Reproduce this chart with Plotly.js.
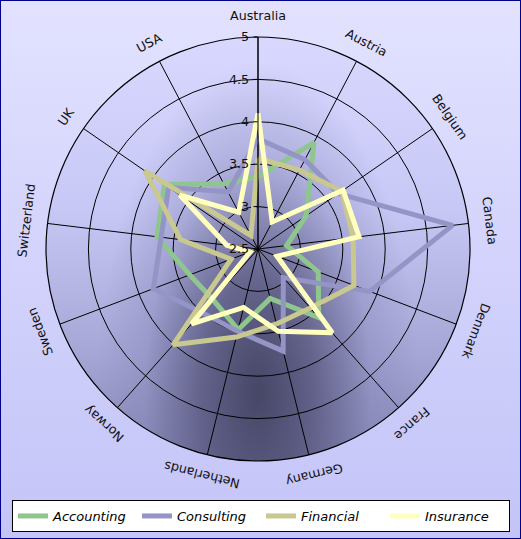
<!DOCTYPE html>
<html><head><meta charset="utf-8">
<script src="https://cdn.plot.ly/plotly-3.0.1.min.js"></script>
<style>
html,body{margin:0;padding:0;background:#d4d4fc;}
#wrap{position:relative;width:521px;height:539px;overflow:hidden;background:linear-gradient(to bottom,#e2e2ff 0%,#d2d2fc 50%,#c4c4f8 100%);}
#disc{position:absolute;left:46px;top:37px;width:424px;height:424px;border-radius:50%;
background:
 radial-gradient(ellipse 38% 78% at 50% 84%, rgba(70,70,102,1) 0%, rgba(88,88,128,0.85) 35%, rgba(130,130,180,0.4) 70%, rgba(150,150,200,0) 100%),
 linear-gradient(to bottom,#d8d8ff 0%,#c8c8f6 40%,#a6a6d6 75%,#8686b4 100%);}
#chart{position:absolute;left:0;top:0;width:521px;height:539px;}
</style></head>
<body>
<div id="wrap"><div id="disc"></div><div id="chart"></div></div>
<script>
const categories = ['Australia','Austria','Belgium','Canada','Denmark','France','Germany','Netherlands','Norway','Sweden','Switzerland','UK','USA'];
const accounting = [3.35, 3.92, 3.19, 2.84, 3.26, 3.58, 3.10, 3.48, 3.30, 3.36, 3.70, 3.84, 3.37];
const consulting = [3.80, 3.69, 3.65, 4.81, 3.91, 2.95, 3.74, 3.50, 3.50, 3.82, 3.65, 3.78, 3.26];
const financial  = [3.57, 3.55, 3.70, 3.63, 3.71, 3.43, 3.41, 3.57, 4.01, 2.84, 3.42, 4.12, 2.68];
const insurance  = [4.10, 2.86, 3.72, 3.70, 2.74, 3.82, 3.50, 3.21, 3.68, 2.60, 2.87, 3.62, 2.99];
const seriesNames = ['Accounting','Consulting','Financial','Insurance'];
const radialTicks = [2.5, 3, 3.5, 4, 4.5, 5];

const colors = ['#8ec68e','#9494c6','#c8c890','#ffffbe'];
const seriesVals = [accounting, consulting, financial, insurance];

const W = 521, H = 539;
const box = {l:46, r:470, t:37, b:461};
const cx = (box.l+box.r)/2, cy = (box.t+box.b)/2, rad = (box.r-box.l)/2;

const traces = seriesVals.map((v,i)=>({
  type:'scatterpolar',
  r: v.concat([v[0]]),
  theta: categories.concat([categories[0]]),
  mode:'lines',
  name: seriesNames[i],
  line:{color:colors[i], width:5},
  hoverinfo:'skip'
}));

const labelR = rad + 21;
const annotations = categories.map((c,i)=>{
  const a = i*360/categories.length;
  const ar = a*Math.PI/180;
  const px = cx + labelR*Math.sin(ar), py = cy - labelR*Math.cos(ar);
  return {text:c, x:px/W, y:1-py/H, xref:'paper', yref:'paper', showarrow:false,
    xanchor:'center', yanchor:'middle', textangle:a,
    font:{family:'DejaVu Sans', size:12.7, color:'#111'}};
});

const layout = {
  width:W, height:H,
  margin:{l:0,r:0,t:0,b:0, autoexpand:false},
  paper_bgcolor:'rgba(0,0,0,0)',
  plot_bgcolor:'rgba(0,0,0,0)',
  showlegend:true,
  polar:{
    domain:{x:[box.l/W, box.r/W], y:[1-box.b/H, 1-box.t/H]},
    bgcolor:'rgba(0,0,0,0)',
    radialaxis:{range:[2.5,5], tickvals:radialTicks, ticktext:radialTicks.map(String),
      angle:90, side:'counterclockwise', tickangle:90,
      showline:true, linecolor:'#000', linewidth:1,
      showgrid:true, gridcolor:'#000', gridwidth:1,
      ticks:'outside', ticklen:4, tickcolor:'#000',
      tickfont:{family:'DejaVu Sans', size:12.7, color:'#111'},
      layer:'above traces'},
    angularaxis:{type:'category', categoryarray:categories, rotation:90, direction:'clockwise',
      showticklabels:false, ticks:'', showgrid:true, gridcolor:'#000', gridwidth:1,
      showline:true, linecolor:'#000', linewidth:1.2, layer:'above traces'}
  },
  legend:{orientation:'h', x:12/W, xanchor:'left', y:1-500/H, yanchor:'top',
    bgcolor:'#fff', bordercolor:'#000', borderwidth:1,
    entrywidth:79, entrywidthmode:'pixels',
    font:{family:'DejaVu Sans', size:13, color:'#000', style:'italic'}},
  annotations: annotations,
  shapes:[{type:'rect', xref:'paper', yref:'paper', x0:0, x1:1, y0:0, y1:1,
    line:{color:'#00008b', width:2}, fillcolor:'rgba(0,0,0,0)'}]
};

Plotly.newPlot('chart', traces, layout, {displayModeBar:false, staticPlot:true});
</script>
</body></html>
